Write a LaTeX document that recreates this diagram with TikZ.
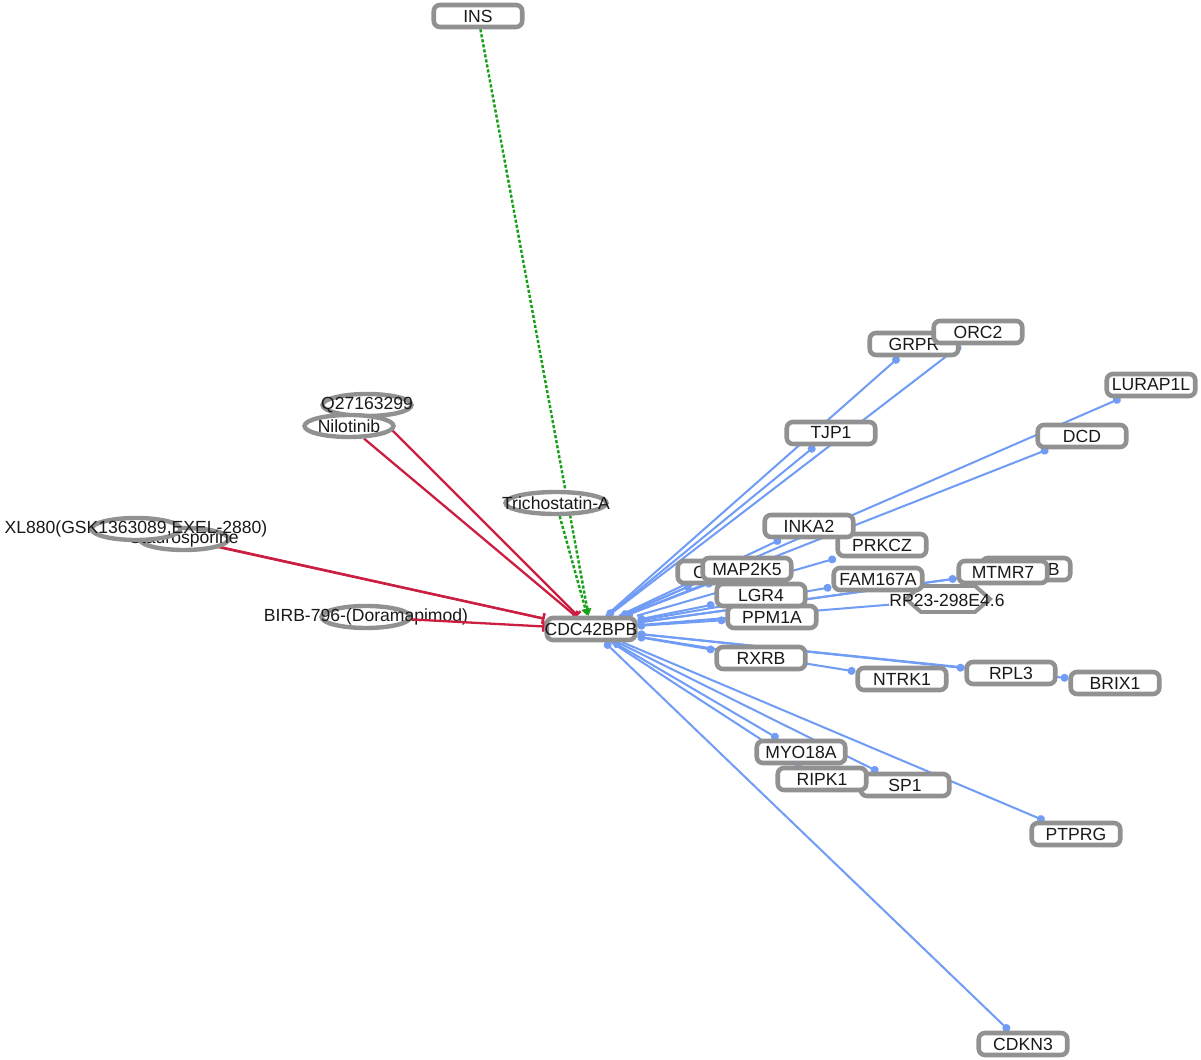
\documentclass[tikz,border=0pt]{standalone}
\usepackage{fontspec}
\setmainfont{Liberation Sans}
\usetikzlibrary{arrows.meta,shapes.geometric}
\definecolor{boxgray}{RGB}{145,145,145}
\definecolor{eblue}{RGB}{112,156,246}
\definecolor{ered}{RGB}{204,30,64}
\definecolor{egreen}{RGB}{24,160,24}
\newcommand\lbl[1]{\makebox[0pt]{#1}}
\pgfdeclarelayer{bg}
\pgfdeclarelayer{edges}
\pgfsetlayers{bg,edges,main}
\begin{document}
\begin{tikzpicture}[x=0.02cm,y=-0.02cm,
  every node/.style={font=\fontsize{10}{12}\selectfont, text=black!90},
  gene/.style={draw=boxgray, line width=2.6pt, fill=white, rounded corners=3.5pt, minimum width=1.77cm, minimum height=0.44cm, inner sep=0pt},
  drug/.style={ellipse, draw=boxgray, line width=2.5pt, fill=white, minimum width=1.78cm, minimum height=0.44cm, inner sep=0pt},
  act/.style={draw=eblue, line width=1.15pt, -{Circle[length=4.5pt]}},
  actb/.style={draw=eblue, line width=1.15pt, {Circle[length=4.5pt]}-{Circle[length=4.5pt]}},
  plain/.style={draw=eblue, line width=1.15pt},
  inh/.style={draw=ered, line width=1.3pt, -{Bar[width=6pt,line width=1.3pt]}},
  stim/.style={draw=egreen, line width=1.4pt, dash pattern=on 1.8pt off 1.1pt, -{Triangle[length=4pt,width=4.5pt]}},
]
\begin{pgfonlayer}{bg}
\fill[white] (0,0) rectangle (1201,1060);
\end{pgfonlayer}
\useasboundingbox (0,0) rectangle (1201,1060);

% hub and top
\node[gene] (ins) at (478,16) {\lbl{INS}};
\node[gene] (cdc) at (591,629) {\lbl{CDC42BPB}};

% drugs
\node[drug, label={center:Q27163299}] (q27) at (367,405) {};
\node[drug, label={center:Nilotinib}] (nilo) at (349,426) {};
\node[drug, minimum width=2.02cm, label={center:Trichostatin-A}] (trich) at (556,503) {};
\node[drug, label={center:Staurosporine}] (stauro) at (184,539) {};
\node[drug, label={center:XL880(GSK1363089,EXEL-2880)}] (xl) at (136,529) {};
\node[drug, label={center:BIRB-796-(Doramapimod)}] (birb) at (366,617) {};

% upper right genes
\node[gene] (grpr) at (914,344) {\lbl{GRPR}};
\node[gene] (orc2) at (978,332) {\lbl{ORC2}};
\node[gene] (lurap) at (1151,385) {\lbl{LURAP1L}};
\node[gene] (tjp1) at (831,433) {\lbl{TJP1}};
\node[gene] (dcd) at (1082,436) {\lbl{DCD}};
\node[gene] (prkcz) at (882,545) {\lbl{PRKCZ}};
\node[gene] (inka2) at (809,526) {\lbl{INKA2}};
\node[gene] (cdc42) at (722,572) {\lbl{CDC42}};
\node[gene] (map2k5) at (747,569) {\lbl{MAP2K5}};
\node[gene] (ppm1a) at (772,617) {\lbl{PPM1A}};
\node[gene] (lgr4) at (761,595) {\lbl{LGR4}};
\draw[boxgray, line width=2.2pt, fill=white] (906,599)--(921,586)--(975,586)--(990,599)--(975,612)--(921,612)--cycle;
\node[inner sep=0pt] (rp) at (947,600) {RP23-298E4.6};
\node[gene] (fam) at (878,579) {\lbl{FAM167A}};
\node[gene] (myl) at (1026,569) {\lbl{MYL12B}};
\node[gene] (mtmr7) at (1003,572) {\lbl{MTMR7}};

% lower right genes
\node[gene] (rxrb) at (761,658) {\lbl{RXRB}};
\node[gene] (ntrk1) at (902,679) {\lbl{NTRK1}};
\node[gene] (rpl3) at (1011,673) {\lbl{RPL3}};
\node[gene] (brix1) at (1115,683) {\lbl{BRIX1}};
\node[gene] (sp1) at (905,785) {\lbl{SP1}};
\node[gene] (myo) at (801,752) {\lbl{MYO18A}};
\node[gene] (ripk1) at (822,779) {\lbl{RIPK1}};
\node[gene] (ptprg) at (1076,834) {\lbl{PTPRG}};
\node[gene] (cdkn3) at (1023,1044) {\lbl{CDKN3}};

\begin{pgfonlayer}{edges}
\draw[act] (cdc) -- (grpr);
\draw[act] (cdc) -- (orc2);
\draw[actb] (cdc) -- (tjp1);
\draw[act] (cdc) -- (lurap);
\draw[act] (cdc) -- (dcd);
\draw[act] (cdc) -- (inka2);
\draw[act] (cdc) -- (prkcz);
\draw[actb] (cdc) -- (cdc42);
\draw[actb] (cdc) -- (map2k5);
\draw[actb] (cdc) -- (lgr4);
\draw[actb] (cdc) -- (ppm1a);
\draw[act] (cdc) -- (fam);
\draw[act] (cdc) -- (myl);
\draw[act] (cdc) -- (mtmr7);
\draw[plain] (cdc) -- (rp);
\draw[actb] (cdc) -- (rxrb);
\draw[act] (cdc) -- (ntrk1);
\draw[actb] (cdc) -- (rpl3);
\draw[act] (cdc) -- (brix1);
\draw[actb] (cdc) -- (myo);
\draw[act] (cdc) -- (ripk1);
\draw[act] (cdc) -- (sp1);
\draw[act] (cdc) -- (ptprg);
\draw[actb] (cdc) -- (cdkn3);
\draw[inh] (q27) -- (cdc);
\draw[inh] (nilo) -- (cdc);
\draw[inh] (xl) -- (cdc);
\draw[inh] (stauro) -- (cdc);
\draw[stim] (ins) -- (cdc);
\draw[stim] (trich) -- (cdc);
\end{pgfonlayer}
\draw[inh] (birb) -- (cdc);
\end{tikzpicture}
\end{document}
